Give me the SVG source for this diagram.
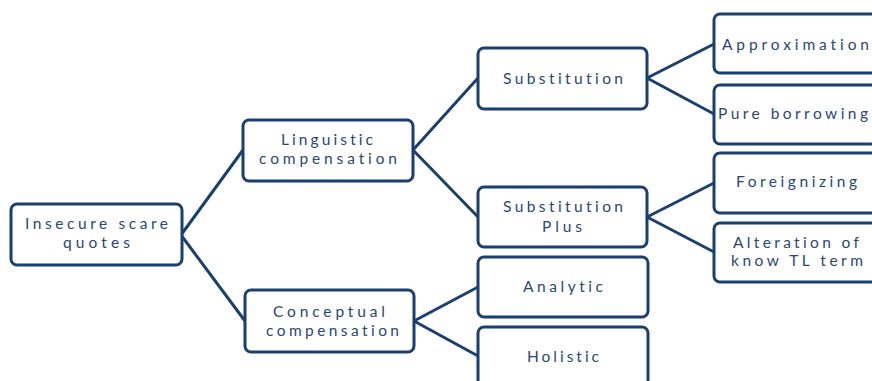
<svg xmlns="http://www.w3.org/2000/svg" width="872" height="381" viewBox="0 0 872 381">
<style>
.box{fill:#ffffff;stroke:#1B3F6E;stroke-width:3}
.con line{stroke:#1B3F6E;stroke-width:3;stroke-linecap:round}
text{font-family:Lato,"Liberation Sans",sans-serif;font-size:15.5px;fill:#2A4774;font-variant-ligatures:none}
</style>
<rect width="872" height="381" fill="#ffffff"/>
<g id="connectors" class="con">
<line x1="181" y1="235" x2="243" y2="150"/>
<line x1="181" y1="235" x2="245" y2="321"/>
<line x1="413" y1="150" x2="478" y2="78"/>
<line x1="413" y1="150" x2="478" y2="217"/>
<line x1="414" y1="321" x2="478" y2="287"/>
<line x1="414" y1="321" x2="478" y2="356"/>
<line x1="647" y1="78" x2="714" y2="44"/>
<line x1="647" y1="78" x2="714" y2="114"/>
<line x1="647" y1="217" x2="714" y2="183"/>
<line x1="647" y1="217" x2="714" y2="252"/>
</g>
<g id="n-insecure">
<rect class="box" x="11" y="204" width="171" height="61" rx="6"/>
<text x="25" y="229" textLength="143" lengthAdjust="spacing">Insecure scare</text>
<text x="63" y="248" textLength="67" lengthAdjust="spacing">quotes</text>
</g>
<g id="n-linguistic">
<rect class="box" x="243" y="120" width="170" height="61" rx="6"/>
<text x="281" y="145" textLength="92" lengthAdjust="spacing">Linguistic</text>
<text x="259" y="164" textLength="138" lengthAdjust="spacing">compensation</text>
</g>
<g id="n-conceptual">
<rect class="box" x="245" y="290" width="169" height="62" rx="6"/>
<text x="273" y="317" textLength="112" lengthAdjust="spacing">Conceptual</text>
<text x="266" y="336" textLength="133" lengthAdjust="spacing">compensation</text>
</g>
<g id="n-substitution">
<rect class="box" x="478" y="48" width="169" height="61" rx="6"/>
<text x="503" y="84" textLength="120" lengthAdjust="spacing">Substitution</text>
</g>
<g id="n-substitution-plus">
<rect class="box" x="478" y="187" width="169" height="60" rx="6"/>
<text x="503" y="212" textLength="120" lengthAdjust="spacing">Substitution</text>
<text x="542" y="232" textLength="40" lengthAdjust="spacing">Plus</text>
</g>
<g id="n-analytic">
<rect class="box" x="478" y="257" width="170" height="60" rx="6"/>
<text x="523" y="292" textLength="80" lengthAdjust="spacing">Analytic</text>
</g>
<g id="n-holistic">
<rect class="box" x="478" y="327" width="170" height="60" rx="6"/>
<text x="527" y="362" textLength="72" lengthAdjust="spacing">Holistic</text>
</g>
<g id="n-approximation">
<rect class="box" x="714" y="14" width="170" height="59" rx="6"/>
<text x="722" y="50" textLength="147" lengthAdjust="spacing">Approximation</text>
</g>
<g id="n-pure-borrowing">
<rect class="box" x="714" y="85" width="170" height="59" rx="6"/>
<text x="718" y="119" textLength="150" lengthAdjust="spacing">Pure borrowing</text>
</g>
<g id="n-foreignizing">
<rect class="box" x="714" y="153" width="170" height="60" rx="6"/>
<text x="736" y="187" textLength="121" lengthAdjust="spacing">Foreignizing</text>
</g>
<g id="n-alteration">
<rect class="box" x="714" y="223" width="170" height="59" rx="6"/>
<text x="733" y="248" textLength="126" lengthAdjust="spacing">Alteration of</text>
<text x="731" y="266" textLength="132" lengthAdjust="spacing">know TL term</text>
</g>
</svg>
